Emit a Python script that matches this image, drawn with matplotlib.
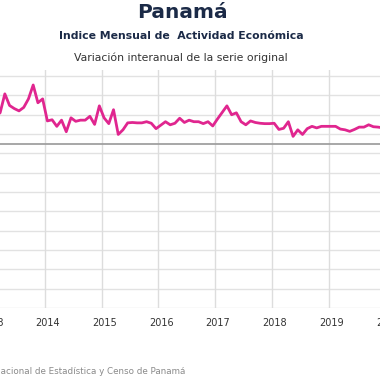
import numpy as np
import matplotlib
matplotlib.use("Agg")
import matplotlib.pyplot as plt
from matplotlib.transforms import ScaledTranslation

# IMAE Panama, variacion interanual (%), mensual desde enero 2013
start_year = 2013
imae = [8.2, 7.2, 8.0, 12.9, 9.9, 9.1, 8.5, 9.4, 11.6, 15.2, 10.6, 11.6,
        5.9, 6.2, 4.5, 6.1, 3.1, 6.7, 5.8, 6.1, 6.1, 7.1, 5.0, 9.8,
        6.7, 5.2, 8.8, 2.4, 3.6, 5.4, 5.5, 5.4, 5.4, 5.7, 5.3, 3.9,
        4.8, 5.7, 4.9, 5.3, 6.6, 5.5, 6.1, 5.7, 5.7, 5.2, 5.7, 4.6,
        6.4, 8.1, 9.8, 7.5, 8.0, 5.7, 4.9, 5.9, 5.5, 5.3, 5.2, 5.2,
        5.3, 3.7, 4.0, 5.7, 1.9, 3.6, 2.4, 3.9, 4.5, 4.1, 4.5, 4.5,
        4.5, 4.5, 3.8, 3.6, 3.2, 3.7, 4.3, 4.3, 4.9, 4.4, 4.3, 4.1]
years = [2013, 2014, 2015, 2016, 2017, 2018, 2019, 2020]
grid_vals = np.arange(-42.5, 20, 5)

t = start_year + (np.arange(len(imae)) + 0.5) / 12

fig = plt.figure(figsize=(3.8, 3.8), dpi=100)
# axes wider than the figure, the picture is a crop of a bigger chart
px = 56.7  # pixels per year
left_px, right_px = -60, 440
ax = fig.add_axes([left_px / 380, 72 / 380, (right_px - left_px) / 380, (308 - 70.3) / 380])

for g in grid_vals:
    ax.axhline(g, color="#e2e2e2", lw=1.0, zorder=1)
for y in years:
    ax.axvline(y, color="#dddddd", lw=1.0, zorder=1)
ax.axhline(0, color="#a0a0a0", lw=1.3, zorder=2)

ax.plot(t, imae, color="#e0268f", lw=2.0, solid_joinstyle="round", zorder=3)

ax.set_xticks(years)
ax.set_xticklabels([str(y) for y in years], fontsize=7, color="#333333")
ax.set_yticks([])
ax.tick_params(axis="x", length=0, pad=7)
for s in ax.spines.values():
    s.set_visible(False)

# labels sit a little right of their gridline in the original
shift = ScaledTranslation(3 / 100, 0, fig.dpi_scale_trans)
for lab in ax.get_xticklabels():
    lab.set_transform(lab.get_transform() + shift)

# limits last, set_xticks would widen them otherwise
ax.set_xlim(2014 - (45 - left_px) / px, 2014 + (right_px - 45) / px)
ax.set_ylim(-42.5, 19)

fig.text(182 / 380, 1 - 13 / 380, "Panamá", ha="center", va="center",
         fontsize=14.5, fontweight="bold", color="#1b2a47")
fig.text(181 / 380, 1 - 36 / 380, "Indice Mensual de  Actividad Económica", ha="center",
         va="center", fontsize=7.8, fontweight="bold", color="#1b2a47")
fig.text(181 / 380, 1 - 58 / 380, "Variación interanual de la serie original", ha="center",
         va="center", fontsize=7.8, color="#333333")
fig.text(185 / 380, 1 - 371 / 380, "Fuente: Instituto Nacional de Estadística y Censo de Panamá",
         ha="right", va="center", fontsize=6.3, color="#8a8a8a")

fig.savefig("out.png", dpi=100)
